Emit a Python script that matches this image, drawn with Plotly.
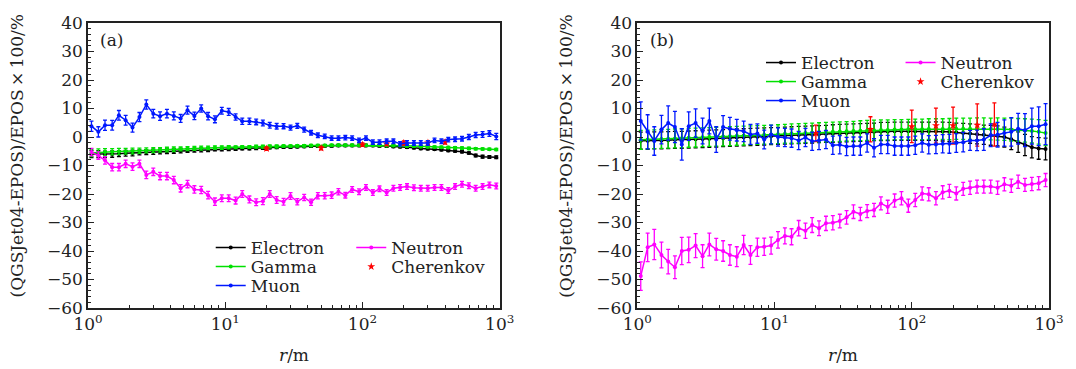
import plotly.graph_objects as go

# ---------------- data ----------------
r = [1.06, 1.19, 1.33, 1.50, 1.68, 1.88, 2.11, 2.37, 2.66, 2.99,
     3.35, 3.76, 4.22, 4.73, 5.31, 5.96, 6.68, 7.50, 8.41, 9.44,
     10.6, 11.9, 13.3, 15.0, 16.8, 18.8, 21.1, 23.7, 26.6, 29.9,
     33.5, 37.6, 42.2, 47.3, 53.1, 59.6, 66.8, 75.0, 84.1, 94.4,
     106, 119, 133, 150, 168, 188, 211, 237, 266, 299,
     335, 376, 422, 473, 531, 596, 668, 750, 841, 944]

# panel (a)
a_electron = [-6.0, -6.0, -6.1, -6.0, -5.9, -5.7, -5.6, -5.4, -5.3, -5.2,
              -5.1, -5.0, -4.9, -4.8, -4.7, -4.6, -4.5, -4.4, -4.3, -4.3,
              -4.2, -4.1, -4.0, -4.0, -3.9, -3.8, -3.7, -3.6, -3.5, -3.5,
              -3.4, -3.3, -3.2, -3.2, -3.1, -3.1, -3.0, -3.0, -3.0, -3.0,
              -3.0, -3.0, -3.1, -3.2, -3.3, -3.4, -3.6, -3.8, -4.0, -4.1,
              -4.3, -4.5, -4.7, -4.9, -5.2, -5.6, -6.5, -6.9, -7.0, -7.1]
a_electron_err = [1.2, 1.2, 1.1, 1.1, 1.0, 1.0, 1.0, 0.9, 0.9, 0.9,
                  0.8, 0.8, 0.8, 0.8, 0.7, 0.7, 0.7, 0.7, 0.6, 0.6,
                  0.6, 0.6, 0.5, 0.5, 0.5, 0.5, 0.5, 0.5, 0.5, 0.5,
                  0.4, 0.4, 0.4, 0.4, 0.4, 0.4, 0.4, 0.4, 0.4, 0.4,
                  0.4, 0.4, 0.4, 0.4, 0.4, 0.4, 0.4, 0.4, 0.4, 0.4,
                  0.4, 0.4, 0.4, 0.4, 0.4, 0.4, 0.5, 0.5, 0.5, 0.5]
a_gamma = [-5.6, -5.4, -5.3, -5.2, -5.1, -5.0, -4.9, -4.8, -4.7, -4.6,
           -4.5, -4.4, -4.3, -4.2, -4.1, -4.0, -3.9, -3.8, -3.7, -3.7,
           -3.6, -3.6, -3.5, -3.5, -3.4, -3.4, -3.3, -3.3, -3.2, -3.2,
           -3.1, -3.1, -3.0, -3.0, -3.0, -2.9, -2.9, -2.9, -2.9, -2.9,
           -2.9, -2.9, -2.9, -3.0, -3.0, -3.0, -3.1, -3.2, -3.3, -3.4,
           -3.5, -3.6, -3.7, -3.8, -3.9, -4.0, -4.1, -4.2, -4.3, -4.4]
a_gamma_err = [1.3, 1.2, 1.2, 1.1, 1.1, 1.0, 1.0, 0.9, 0.9, 0.9,
               0.8, 0.8, 0.8, 0.7, 0.7, 0.7, 0.7, 0.6, 0.6, 0.6,
               0.6, 0.5, 0.5, 0.5, 0.5, 0.5, 0.5, 0.5, 0.4, 0.4,
               0.4, 0.4, 0.4, 0.4, 0.4, 0.4, 0.4, 0.4, 0.4, 0.4,
               0.4, 0.4, 0.4, 0.4, 0.4, 0.4, 0.4, 0.4, 0.4, 0.4,
               0.4, 0.4, 0.4, 0.4, 0.4, 0.4, 0.4, 0.4, 0.4, 0.4]
a_muon = [3.8, 1.8, 4.1, 4.1, 7.6, 5.9, 3.3, 7.0, 11.4, 8.2,
          7.3, 8.2, 7.4, 6.5, 9.4, 7.4, 10.0, 7.3, 6.2, 9.2,
          8.8, 7.0, 5.5, 5.5, 5.3, 4.9, 4.1, 3.8, 3.8, 3.3,
          3.9, 2.6, 1.5, 0.6, 0.2, -0.4, -0.4, -0.2, -0.4, -1.2,
          -0.4, -1.8, -1.8, -1.5, -1.5, -2.4, -2.1, -2.1, -2.1, -2.1,
          -1.2, -1.5, -0.9, -0.8, -0.6, 0.0, 0.7, 0.9, 1.2, 0.2]
a_muon_err = [1.8, 1.8, 1.8, 1.7, 1.7, 1.7, 1.6, 1.6, 1.6, 1.5,
              1.5, 1.5, 1.4, 1.4, 1.4, 1.3, 1.3, 1.3, 1.2, 1.2,
              1.2, 1.1, 1.1, 1.1, 1.0, 1.0, 1.0, 1.0, 0.9, 0.9,
              0.9, 0.9, 0.8, 0.8, 0.8, 0.8, 0.8, 0.8, 0.8, 0.8,
              0.8, 0.8, 0.8, 0.8, 0.8, 0.8, 0.8, 0.8, 0.8, 0.8,
              0.8, 0.8, 0.8, 0.8, 0.8, 0.9, 0.9, 1.0, 1.0, 1.1]
a_neutron = [-5.3, -6.5, -8.2, -10.6, -10.6, -9.4, -10.4, -9.4, -13.3, -12.2,
             -13.7, -13.7, -15.1, -18.0, -16.5, -18.4, -18.6, -20.4, -22.7, -21.5,
             -21.5, -22.3, -20.0, -21.9, -22.9, -22.5, -20.0, -22.1, -22.7, -20.7,
             -22.7, -21.2, -22.9, -20.6, -20.6, -20.4, -19.2, -20.4, -18.4, -19.2,
             -17.7, -19.5, -18.2, -19.5, -18.0, -17.7, -17.4, -17.8, -18.0, -18.0,
             -17.7, -17.7, -18.8, -17.4, -16.6, -17.1, -18.0, -17.4, -16.8, -17.2]
a_neutron_err = [1.3, 1.3, 1.3, 1.3, 1.3, 1.3, 1.3, 1.3, 1.3, 1.3,
                 1.3, 1.3, 1.3, 1.3, 1.3, 1.3, 1.3, 1.3, 1.3, 1.2,
                 1.2, 1.2, 1.2, 1.2, 1.2, 1.2, 1.2, 1.2, 1.2, 1.2,
                 1.1, 1.1, 1.1, 1.1, 1.1, 1.1, 1.1, 1.0, 1.0, 1.0,
                 1.0, 1.0, 1.0, 1.0, 1.0, 1.0, 1.0, 1.0, 1.0, 1.0,
                 1.0, 1.0, 1.0, 1.0, 1.0, 1.0, 1.0, 1.0, 1.0, 1.0]
r_cherenkov = [20, 50, 100, 150, 200, 300, 400]
a_cherenkov = [-4.1, -3.9, -2.7, -2.4, -2.1, -2.0, -1.8]
a_cherenkov_err = [0.6, 0.6, 0.6, 0.6, 0.7, 0.7, 0.7]

# panel (b)
b_electron = [-1.3, -1.3, -1.2, -1.2, -1.1, -1.0, -1.0, -0.9, -0.8, -0.7,
              -0.6, -0.5, -0.4, -0.3, -0.2, -0.1, 0.0, 0.1, 0.2, 0.3,
              0.4, 0.5, 0.6, 0.7, 0.8, 0.9, 1.0, 1.1, 1.2, 1.3,
              1.4, 1.5, 1.6, 1.7, 1.8, 1.9, 1.9, 2.0, 2.0, 2.0,
              2.0, 2.0, 2.0, 2.0, 1.9, 1.8, 1.6, 1.4, 1.2, 1.0,
              0.8, 0.6, 0.4, 0.0, -0.8, -1.8, -2.8, -3.6, -4.0, -4.2]
b_electron_err = [3.0, 3.0, 3.0, 3.0, 3.0, 3.0, 3.0, 3.0, 3.0, 3.0,
                  3.0, 3.0, 3.0, 3.0, 3.0, 3.0, 3.0, 3.0, 3.0, 3.0,
                  3.0, 3.0, 3.0, 3.0, 3.0, 3.0, 3.0, 3.0, 3.1, 3.1,
                  3.1, 3.1, 3.1, 3.1, 3.1, 3.2, 3.2, 3.2, 3.2, 3.2,
                  3.2, 3.2, 3.2, 3.3, 3.3, 3.3, 3.3, 3.4, 3.4, 3.4,
                  3.4, 3.5, 3.5, 3.5, 3.6, 3.6, 3.7, 3.7, 3.8, 3.8]
b_gamma = [-1.0, -0.9, -0.8, -0.7, -0.6, -0.5, -0.4, -0.3, -0.2, -0.1,
           0.0, 0.1, 0.2, 0.3, 0.4, 0.5, 0.6, 0.7, 0.8, 0.9,
           1.0, 1.1, 1.2, 1.3, 1.4, 1.5, 1.6, 1.7, 1.8, 1.9,
           2.0, 2.1, 2.2, 2.3, 2.4, 2.5, 2.5, 2.6, 2.6, 2.7,
           2.7, 2.7, 2.8, 2.8, 2.8, 2.8, 2.9, 2.9, 2.9, 2.9,
           2.9, 2.8, 2.8, 2.7, 2.6, 2.5, 2.3, 2.1, 1.8, 1.4]
b_gamma_err = [3.3, 3.3, 3.3, 3.3, 3.3, 3.3, 3.3, 3.3, 3.3, 3.3,
               3.3, 3.3, 3.3, 3.3, 3.3, 3.3, 3.3, 3.3, 3.3, 3.3,
               3.3, 3.3, 3.4, 3.4, 3.4, 3.4, 3.4, 3.4, 3.4, 3.4,
               3.4, 3.4, 3.5, 3.5, 3.5, 3.5, 3.5, 3.5, 3.5, 3.5,
               3.6, 3.6, 3.6, 3.6, 3.6, 3.7, 3.7, 3.7, 3.7, 3.8,
               3.8, 3.8, 3.9, 3.9, 4.0, 4.0, 4.1, 4.2, 4.3, 4.4]
b_muon = [5.6, 1.8, -1.4, 2.6, 4.9, 3.5, -2.6, 3.8, 4.9, 2.1,
          5.6, -0.9, 3.5, 2.9, 2.4, 2.0, 0.9, 1.2, -0.9, 0.9,
          0.0, -0.2, -0.4, -1.2, -0.2, -1.5, -1.2, -0.9, -2.9, -2.7,
          -3.3, -3.2, -3.2, -2.1, -3.8, -2.6, -2.6, -3.2, -3.2, -3.2,
          -2.9, -2.1, -2.7, -2.6, -2.4, -2.4, -2.1, -1.8, -1.2, -1.2,
          -0.9, 0.6, 0.8, 1.4, 1.8, 2.9, 2.4, 3.8, 3.8, 4.5]
b_muon_err = [6.7, 6.0, 5.0, 5.0, 6.0, 5.5, 5.5, 5.0, 5.0, 4.5,
              4.5, 4.5, 4.0, 4.0, 3.8, 3.6, 3.5, 3.4, 3.3, 3.3,
              3.2, 3.2, 3.2, 3.2, 3.2, 3.2, 3.2, 3.2, 3.2, 3.2,
              3.2, 3.2, 3.2, 3.2, 3.2, 3.2, 3.2, 3.2, 3.2, 3.2,
              3.2, 3.2, 3.2, 3.2, 3.2, 3.3, 3.3, 3.4, 3.5, 3.6,
              3.8, 4.0, 4.3, 4.6, 5.0, 5.4, 5.8, 6.3, 6.8, 7.2]
b_neutron = [-48.8, -38.7, -37.7, -41.4, -43.7, -45.7, -40.0, -39.6, -38.1, -41.8,
             -37.7, -39.4, -40.0, -41.4, -42.0, -37.9, -41.4, -38.7, -38.5, -38.1,
             -36.1, -34.7, -35.0, -32.0, -32.9, -30.9, -32.0, -30.3, -30.1, -29.5,
             -28.2, -26.2, -27.0, -26.0, -25.6, -23.3, -24.5, -22.3, -21.5, -24.1,
             -22.1, -19.8, -20.1, -21.5, -19.4, -18.9, -19.8, -18.2, -17.8, -17.4,
             -17.4, -17.4, -17.8, -16.6, -17.1, -15.7, -16.8, -16.5, -16.2, -15.1]
b_neutron_err = [5.0, 5.0, 5.3, 4.5, 4.3, 4.0, 4.8, 4.5, 4.2, 4.0,
                 4.0, 3.8, 3.6, 3.6, 3.5, 3.4, 3.3, 3.2, 3.0, 3.0,
                 2.9, 2.8, 2.8, 2.7, 2.7, 2.6, 2.6, 2.5, 2.5, 2.4,
                 2.4, 2.4, 2.3, 2.3, 2.3, 2.3, 2.3, 2.3, 2.3, 2.3,
                 2.3, 2.3, 2.3, 2.3, 2.3, 2.3, 2.3, 2.3, 2.3, 2.3,
                 2.3, 2.3, 2.3, 2.3, 2.3, 2.3, 2.3, 2.3, 2.3, 2.3]
b_cherenkov = [1.3, 2.7, 3.7, 4.0, 4.0, 4.2, 4.4]
b_cherenkov_err = [2.9, 4.4, 5.7, 6.1, 6.5, 7.4, 7.6]

x_tickvals = [1, 10, 100, 1000]
x_ticktext = ["10<sup>0</sup>", "10<sup>1</sup>", "10<sup>2</sup>", "10<sup>3</sup>"]
x_minor = [2, 3, 4, 5, 6, 7, 8, 9, 20, 30, 40, 50, 60, 70, 80, 90,
           200, 300, 400, 500, 600, 700, 800, 900]
y_tickvals = [-60, -50, -40, -30, -20, -10, 0, 10, 20, 30, 40]
y_title = "(QGSJet04-EPOS)/EPOS\u2009\u00d7\u2009100/%"
panel_labels = ["(a)", "(b)"]

# ---------------- style ----------------
FONT = "DejaVu Serif"
W, H = 1076, 369
ML, MR, MT, MB = 88, 17, 23, 61
PW = W - ML - MR
PH = H - MT - MB
colors = {"Electron": "#000000", "Gamma": "#00e000", "Muon": "#0018ff",
          "Neutron": "#ff00ff", "Cherenkov": "#ff0000"}

fig = go.Figure()

panels = [
    ("x", "y", {"Electron": (a_electron, a_electron_err), "Gamma": (a_gamma, a_gamma_err),
                "Muon": (a_muon, a_muon_err), "Neutron": (a_neutron, a_neutron_err),
                "Cherenkov": (a_cherenkov, a_cherenkov_err)}),
    ("x2", "y2", {"Electron": (b_electron, b_electron_err), "Gamma": (b_gamma, b_gamma_err),
                  "Muon": (b_muon, b_muon_err), "Neutron": (b_neutron, b_neutron_err),
                  "Cherenkov": (b_cherenkov, b_cherenkov_err)}),
]

# legend row positions in pixels (left of legend item, row center)
legend_px = [
    {"Electron": (212, 248), "Gamma": (212, 267), "Muon": (212, 286),
     "Neutron": (354, 248), "Cherenkov": (354, 267)},
    {"Electron": (768, 63), "Gamma": (768, 82), "Muon": (768, 101),
     "Neutron": (909, 63), "Cherenkov": (909, 82)},
]

draw_order = ["Electron", "Gamma", "Neutron", "Cherenkov", "Muon"]
legend_layouts = {}
k = 0
for p, (xa, ya, series) in enumerate(panels):
    for nm in draw_order:
        vals, errs = series[nm]
        k += 1
        lname = "legend" if k == 1 else f"legend{k}"
        px, py = legend_px[p][nm]
        legend_layouts[lname] = dict(
            x=(px - ML) / PW, y=(H - MB - py) / PH, xanchor="left", yanchor="middle",
            bgcolor="rgba(0,0,0,0)", borderwidth=0, font=dict(family=FONT, size=17, color="#222"),
            itemwidth=30, tracegroupgap=0)
        c = colors[nm]
        if nm == "Cherenkov":
            fig.add_trace(go.Scatter(
                x=r_cherenkov, y=vals, mode="markers", name=nm, xaxis=xa, yaxis=ya,
                legend=lname,
                marker=dict(symbol="star", size=6, color=c, line=dict(width=0)),
                error_y=dict(type="data", array=errs, color=c, thickness=1.3, width=2)))
        else:
            fig.add_trace(go.Scatter(
                x=r, y=vals, mode="lines+markers", name=nm, xaxis=xa, yaxis=ya,
                legend=lname,
                line=dict(color=c, width=1.5),
                marker=dict(symbol="circle", size=4, color=c),
                error_y=dict(type="data", array=errs, color=c, thickness=1.3, width=2)))

axis_common = dict(showline=True, linecolor="#222", linewidth=1.5, mirror=True,
                   ticks="inside", tickcolor="#222", ticklen=6, tickwidth=1.2,
                   showgrid=False, zeroline=False,
                   tickfont=dict(family=FONT, size=17, color="#222"))

xa_common = dict(axis_common, type="log", range=[0, 3], tickvals=x_tickvals,
                 ticktext=x_ticktext,
                 minor=dict(tickvals=x_minor, ticks="inside", ticklen=3, tickcolor="#222",
                            showgrid=False))
ya_common = dict(axis_common, range=[-60, 40], tickvals=y_tickvals,
                 minor=dict(dtick=2, ticks="inside", ticklen=3, tickcolor="#222",
                            showgrid=False))

dom_a = [0, (504 - ML) / PW]
dom_b = [(643 - ML) / PW, 1]

annotations = []
for p, (xa, ya) in enumerate([("x", "y"), ("x2", "y2")]):
    annotations.append(dict(text=y_title, xref=f"{xa} domain", yref=f"{ya} domain",
                            x=0, y=0.5, xshift=-72, yshift=9, textangle=-90, showarrow=False,
                            xanchor="center", yanchor="middle",
                            font=dict(family=FONT, size=17, color="#222")))
    annotations.append(dict(text="<i>r</i>/m", xref=f"{xa} domain", yref=f"{ya} domain",
                            x=0.5, y=0, yshift=-47, showarrow=False,
                            xanchor="center", yanchor="middle",
                            font=dict(family=FONT, size=17, color="#222")))
    annotations.append(dict(text=panel_labels[p], xref=f"{xa} domain", yref=f"{ya} domain",
                            x=0.025, y=0.94, showarrow=False, xanchor="left", yanchor="middle",
                            font=dict(family=FONT, size=17, color="#222")))

fig.update_layout(
    width=W, height=H, margin=dict(l=ML, r=MR, t=MT, b=MB),
    paper_bgcolor="white", plot_bgcolor="white",
    xaxis=dict(xa_common, domain=dom_a, anchor="y"),
    yaxis=dict(ya_common, anchor="x"),
    xaxis2=dict(xa_common, domain=dom_b, anchor="y2"),
    yaxis2=dict(ya_common, anchor="x2"),
    annotations=annotations,
    showlegend=True,
    **legend_layouts,
)

fig.write_html("out.html")
